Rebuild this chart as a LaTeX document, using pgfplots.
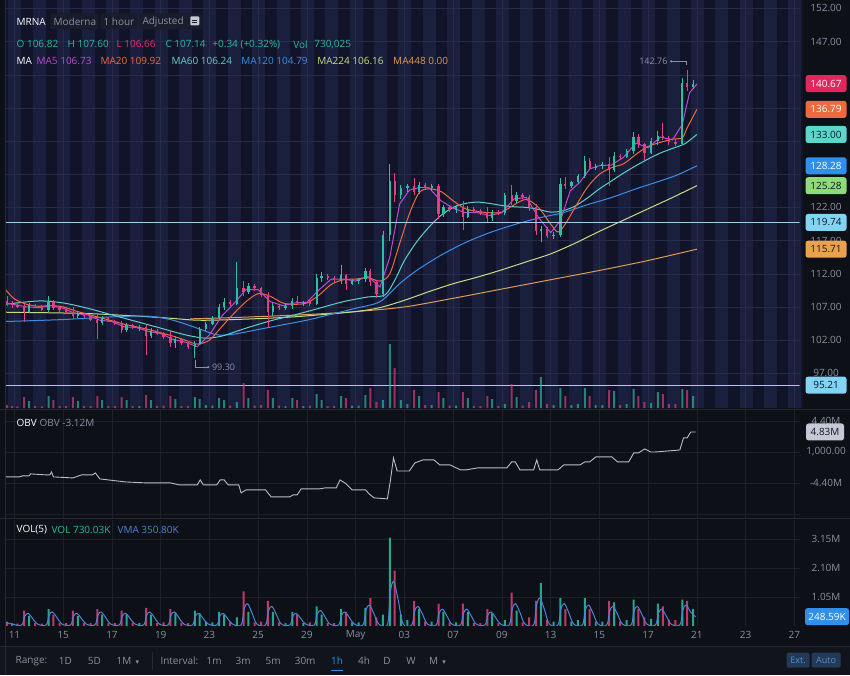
\documentclass[border=0pt]{standalone}
\usepackage{pgfplots}
\pgfplotsset{compat=1.18}
\usepackage{pgfplotstable}
\usepackage{fontspec}
\setmainfont{Open Sans}
\newfontfamily\symfont{DejaVu Sans}

\definecolor{bg}{HTML}{0E1017}
\definecolor{barbg}{HTML}{12141C}
\definecolor{stripeD}{HTML}{111428}
\definecolor{stripeL}{HTML}{1B1F3E}
\definecolor{gridM}{HTML}{272B47}
\definecolor{gridL}{HTML}{1D202C}
\definecolor{sep}{HTML}{252835}
\definecolor{txt}{HTML}{8B90A2}
\definecolor{upc}{HTML}{2BC0A5}
\definecolor{dnc}{HTML}{E2407C}
\definecolor{hdrup}{HTML}{2DB89E}
\definecolor{hdrdn}{HTML}{E0306A}
\definecolor{maFive}{HTML}{BD4BD6}
\definecolor{maTwenty}{HTML}{EE6A3C}
\definecolor{maSixty}{HTML}{5CD0C8}
\definecolor{maOneTwenty}{HTML}{3A8EE6}
\definecolor{maTwoTwentyFour}{HTML}{C2DE84}
\definecolor{maFourFortyEight}{HTML}{DA9C56}
\definecolor{hline}{HTML}{A6CCEB}
\definecolor{obvc}{HTML}{B9BDC9}
\definecolor{vmac}{HTML}{4C82D8}
\definecolor{boxRed}{HTML}{E2265E}
\definecolor{boxOrange}{HTML}{EE6A3C}
\definecolor{boxTeal}{HTML}{5CD6CC}
\definecolor{boxBlue}{HTML}{2F8FEA}
\definecolor{boxGreen}{HTML}{8EDB7A}
\definecolor{boxSky}{HTML}{82D4F5}
\definecolor{boxTan}{HTML}{EAA24E}
\definecolor{boxGrey}{HTML}{C5C9D6}
\definecolor{boxDark}{HTML}{10161E}
\definecolor{btn}{HTML}{233A56}
\definecolor{btntxt}{HTML}{4D8FD6}
\definecolor{chip}{HTML}{191C2A}

% hourly-ish candles: time (trading days from Apr 11), open, high, low, close, volume (M)
\pgfplotstableread{
t o h l c v
-0.30 107.9 108.6 107.2 107.5 0.15
-0.10 107.5 107.9 106.9 107.3 0.10
0.12 107.3 107.6 106.8 107.0 0.08
0.40 107.0 107.4 104.8 106.3 0.55
0.60 106.3 107.6 106.1 107.3 0.35
0.85 107.3 107.5 106.9 107.1 0.10
1.12 107.1 107.3 106.4 106.6 0.08
1.40 106.6 108.6 106.2 107.8 0.60
1.60 107.8 108.0 106.5 106.8 0.40
1.85 106.8 107.0 106.3 106.6 0.10
2.12 106.6 106.9 106.0 106.3 0.10
2.40 106.3 107.0 105.2 105.6 0.55
2.60 105.6 106.4 105.3 106.0 0.35
2.85 106.0 106.1 105.4 105.6 0.10
3.12 105.6 105.8 104.9 105.1 0.10
3.40 105.1 105.9 102.2 104.6 0.60
3.60 104.6 105.6 104.3 105.3 0.40
3.85 105.3 105.5 104.7 104.9 0.10
4.12 104.9 105.1 104.2 104.4 0.10
4.40 104.4 104.9 103.0 103.5 0.55
4.60 103.5 104.6 103.2 104.2 0.40
4.85 104.2 104.4 103.6 103.8 0.10
5.12 103.8 104.2 103.3 103.9 0.10
5.40 103.9 104.3 99.8 102.6 0.65
5.60 102.6 103.8 102.3 103.4 0.40
5.85 103.4 103.6 102.7 102.9 0.10
6.12 102.9 103.2 102.1 102.4 0.12
6.40 102.4 103.4 101.0 101.6 0.60
6.60 101.6 102.4 100.8 102.1 0.45
6.85 102.1 102.3 101.2 101.5 0.10
7.12 101.5 101.8 100.6 100.9 0.10
7.40 100.9 101.8 99.3 101.4 0.55
7.60 101.4 104.0 101.2 103.6 0.45
7.85 103.6 104.8 103.4 104.4 0.15
8.12 104.4 105.6 104.2 105.3 0.12
8.40 105.3 107.5 105.0 107.0 0.50
8.60 107.0 108.4 106.5 107.8 0.40
8.85 107.8 108.1 107.2 107.5 0.12
9.12 107.5 113.8 107.3 109.8 0.30
9.40 109.8 110.9 108.6 109.2 1.25
9.60 109.2 110.6 108.9 110.2 0.50
9.85 110.2 110.5 109.4 109.8 0.12
10.12 109.8 110.0 108.5 108.8 0.15
10.40 108.8 109.2 104.0 106.2 0.90
10.60 106.2 107.6 105.6 107.2 0.50
10.85 107.2 107.5 106.6 106.9 0.12
11.12 106.9 107.4 106.5 107.2 0.10
11.40 107.2 108.3 106.7 107.9 0.50
11.60 107.9 108.6 107.3 107.6 0.40
11.85 107.6 107.9 107.2 107.8 0.10
12.12 107.8 108.2 107.2 107.5 0.12
12.40 107.5 112.0 107.3 111.4 0.70
12.60 111.4 112.2 110.8 111.7 0.40
12.85 111.7 111.9 111.1 111.3 0.10
13.12 111.3 111.6 110.7 111.0 0.10
13.40 111.0 113.3 110.4 111.8 0.60
13.60 111.8 112.0 109.6 110.5 0.50
13.85 110.5 111.2 110.3 110.9 0.12
14.12 110.9 111.4 110.4 111.2 0.12
14.40 111.2 112.9 110.8 112.4 0.65
14.60 112.4 112.7 110.2 110.8 1.00
14.85 110.8 111.0 108.4 108.9 0.30
15.12 108.9 118.5 108.5 117.8 0.40
15.40 117.8 128.6 117.0 126.0 3.20
15.60 126.0 127.2 122.8 123.8 2.00
15.85 123.8 125.4 123.3 124.9 0.40
16.12 124.9 125.5 124.3 125.2 0.20
16.40 125.2 126.4 123.8 124.4 0.90
16.60 124.4 125.8 124.0 125.4 0.60
16.85 125.4 125.7 124.8 125.0 0.15
17.12 125.0 125.6 124.5 125.3 0.15
17.40 125.3 125.5 120.2 121.0 0.80
17.60 121.0 122.4 120.6 122.0 0.50
17.85 122.0 122.3 121.3 121.6 0.12
18.12 121.6 122.3 121.2 122.0 0.12
18.40 122.0 123.0 118.6 120.6 0.80
18.60 120.6 122.2 120.4 121.8 0.50
18.85 121.8 122.0 121.2 121.4 0.10
19.12 121.4 121.8 120.8 121.2 0.10
19.40 121.2 122.0 119.8 120.4 0.60
19.60 120.4 121.6 120.0 121.3 0.45
19.85 121.3 121.6 120.9 121.1 0.10
20.12 121.1 124.2 120.9 123.8 0.20
20.40 123.8 125.4 122.4 122.9 1.20
20.60 122.9 124.3 122.6 123.9 0.55
20.85 123.9 124.2 123.3 123.6 0.12
21.12 123.6 123.8 121.5 122.0 0.30
21.40 122.0 122.5 117.8 118.4 0.90
21.60 118.4 119.2 116.8 118.8 1.55
21.85 118.8 119.0 117.4 117.7 0.20
22.12 117.7 118.3 117.2 117.9 0.15
22.40 117.9 126.4 117.6 125.6 1.00
22.60 125.6 126.6 124.8 125.2 0.60
22.85 125.2 126.0 124.9 125.8 0.15
23.12 125.8 127.0 125.5 126.8 0.20
23.40 126.8 129.8 126.4 129.0 1.00
23.60 129.0 129.4 127.6 128.0 0.60
23.85 128.0 128.6 127.7 128.3 0.15
24.12 128.3 128.8 127.8 128.5 0.15
24.40 128.5 129.6 125.2 127.6 0.90
24.60 127.6 130.3 127.3 129.8 0.85
24.85 129.8 130.1 129.3 129.6 0.15
25.12 129.6 130.8 129.4 130.5 0.20
25.40 130.5 133.4 130.1 132.6 0.95
25.60 132.6 133.0 131.0 131.5 0.60
25.85 131.5 131.7 129.2 130.2 0.30
26.12 130.2 132.4 130.0 132.0 0.25
26.40 132.0 133.5 131.4 132.8 0.80
26.60 132.8 134.8 132.2 132.4 0.70
26.85 132.4 132.7 131.4 131.8 0.20
27.12 131.8 132.3 131.2 131.6 0.20
27.40 131.6 141.5 131.4 140.8 0.95
27.60 140.8 142.76 139.6 140.2 0.90
27.85 140.2 141.2 139.9 140.67 0.60
}\candles

\tikzset{
  pbox/.style={rounded corners=2.5pt, minimum width=41pt, minimum height=17pt, inner sep=0pt},
  lbl/.style={anchor=west, inner sep=0pt},
}
\pgfplotsset{
  candle/.style n args={2}{draw=none, mark=none, forget plot,
    error bars/.cd, y dir=minus, y explicit, error mark=none,
    error bar style={draw=#1, line width=#2}, /pgfplots/.cd},
  isup/.style={restrict expr to domain={\thisrow{c}-\thisrow{o}}{0:100}},
  isdown/.style={restrict expr to domain={\thisrow{c}-\thisrow{o}}{-100:-0.001}},
}

\begin{document}
\begin{tikzpicture}[x=1pt,y=1pt,font=\fontsize{10}{12}\selectfont]
\fill[bg] (0,0) rectangle (850,675);
\fill[barbg] (0,0) rectangle (850,28);

% extended-hours stripes behind the price panel
\fill[stripeD] (5,267) rectangle (803,675);
\begin{scope}
\clip (5,267) rectangle (803,675);
\foreach \k in {-1,...,33} \fill[stripeL] ({14+24.4*\k-6},267) rectangle ({14+24.4*\k+7},675);
\end{scope}

% ---------------- price panel ----------------
\begin{axis}[
  at={(5pt,267pt)}, anchor=south west, scale only axis,
  width=795pt, height=408pt,
  xmin=-0.369, xmax=32.213, ymin=91.76, ymax=153.2,
  axis line style={draw=none}, major tick length=0pt,
  xtick={0,2,...,32}, xticklabels={},
  ytick={97,102,...,152},
  yticklabels={97.00,102.00,107.00,112.00,117.00,122.00,,,,,147.00,152.00},
  ytick pos=right, yticklabel pos=right,
  yticklabel style={text=txt, anchor=center, xshift=26.5pt},
  grid=major, major grid style={gridM, line width=0.5pt},
]
% moving averages
\addplot[maFourFortyEight, line width=1pt, smooth] coordinates {
(7.2,105.2)(9,105.4)(11.7,105.8)(14,106.3)(16,107.0)(18,108.3)(20,109.7)(22,111.1)(24,112.5)(26,114.0)(28,115.71)};
\addplot[maTwoTwentyFour, line width=1pt, smooth] coordinates {
(-0.37,106.2)(3,106.0)(6,105.4)(7.5,105.0)(9,105.1)(11,105.4)(12.5,105.8)(14,106.3)(15,106.9)(16,108.0)(17,109.3)(18,110.5)(19,111.5)(20,112.6)(21,113.8)(22,115.0)(23,116.6)(24,118.4)(25,120.1)(26,121.8)(27,123.5)(28,125.28)};
\addplot[maOneTwenty, line width=1pt, smooth] coordinates {
(-0.37,104.8)(2,105.1)(4,105.5)(5.5,105.6)(6.5,105.0)(7.5,103.8)(8.3,102.8)(9,102.9)(10,103.6)(11,104.3)(12,105.0)(13,105.9)(14,106.8)(15,107.8)(15.8,110.5)(16.5,112.5)(17.5,114.8)(18.5,116.7)(19.5,118.2)(20.5,119.4)(21.5,120.4)(22.5,121.2)(23.5,122.4)(24.5,123.5)(25.5,124.8)(26.5,126.0)(27.2,126.9)(28,128.28)};
\addplot[maSixty, line width=1pt, smooth] coordinates {
(-0.37,107.4)(1,107.9)(2,107.6)(3,106.8)(4,105.8)(5,104.8)(6,103.8)(7,102.8)(7.8,102.3)(8.5,102.6)(9.5,103.8)(10.5,104.9)(11.5,105.8)(12.5,106.8)(13.5,107.8)(14.5,108.5)(15.2,108.8)(15.6,111.0)(16,114.0)(16.5,116.8)(17,119.0)(17.5,120.8)(18,122.0)(18.5,122.6)(19,122.8)(19.5,122.6)(20,122.3)(20.5,122.1)(21,122.0)(21.5,121.7)(22,121.3)(22.5,121.5)(23,122.2)(23.5,123.4)(24,124.8)(24.5,126.0)(25,127.2)(25.5,128.3)(26,129.3)(26.5,130.2)(27,130.9)(27.5,131.6)(28,133.0)};
\addplot[maTwenty, line width=1pt, smooth] coordinates {
(-0.37,109.6)(0.0,108.2)(0.5,107.4)(1.0,107.1)(1.5,107.2)(2.0,107.0)(2.5,106.4)(3.0,105.9)(3.5,105.4)(4.0,104.9)(4.5,104.4)(5.0,104.0)(5.5,103.6)(6.0,103.1)(6.5,102.6)(7.0,102.0)(7.5,101.4)(8.0,102.0)(8.5,104.0)(9.0,106.0)(9.5,107.8)(10.0,109.0)(10.5,108.6)(11.0,107.6)(11.5,107.4)(12.0,107.6)(12.5,108.8)(13.0,110.4)(13.5,111.1)(14.0,111.2)(14.5,111.4)(15.0,110.9)(15.4,112.0)(15.8,116.5)(16.2,121.0)(16.6,124.2)(17.0,124.8)(17.5,124.4)(18.0,123.0)(18.5,121.8)(19.0,121.4)(19.5,121.2)(20.0,121.3)(20.5,122.4)(21.0,123.2)(21.5,122.0)(22.0,119.5)(22.3,118.3)(22.6,119.5)(23.0,122.0)(23.5,125.0)(24.0,127.0)(24.5,128.0)(25.0,128.6)(25.5,130.0)(26.0,131.2)(26.5,131.8)(27.0,132.3)(27.4,132.5)(27.6,134.0)(28.0,136.79)};
\addplot[maFive, line width=1pt] coordinates {
(-0.35,107.6)(0.5,107.0)(1.0,106.9)(1.5,107.2)(2.0,106.8)(2.5,106.0)(3.0,105.8)(3.5,105.0)(4.0,104.8)(4.5,104.0)(5.0,103.9)(5.5,103.3)(6.0,103.0)(6.5,102.1)(7.0,101.7)(7.5,101.0)(8.0,102.8)(8.5,105.6)(9.0,107.5)(9.5,109.6)(10.0,109.6)(10.5,107.8)(11.0,107.2)(11.5,107.6)(12.0,107.7)(12.5,109.6)(13.0,111.2)(13.5,111.2)(14.0,110.9)(14.5,111.6)(15.0,110.0)(15.4,114.5)(15.8,122.5)(16.2,124.6)(16.6,125.0)(17.0,125.0)(17.5,123.0)(18.0,121.9)(18.5,121.2)(19.0,121.2)(19.5,120.8)(20.0,121.2)(20.5,123.3)(21.0,123.5)(21.5,120.5)(22.0,118.2)(22.4,120.0)(22.8,124.5)(23.2,125.8)(23.6,127.8)(24.0,128.3)(24.5,128.4)(25.0,129.6)(25.5,131.7)(26.0,131.0)(26.5,132.6)(27.0,132.2)(27.4,134.5)(27.7,139.3)(28.0,140.6)};

% candles: wicks then bodies, split up/down
\addplot[isup, candle={upc}{0.8pt}]
  table[x=t, y=h, y error minus expr=\thisrow{h}-\thisrow{l}] {\candles};
\addplot[isdown, candle={dnc}{0.8pt}]
  table[x=t, y=h, y error minus expr=\thisrow{h}-\thisrow{l}] {\candles};
\addplot[isup, candle={upc}{2.3pt}]
  table[x=t, y=c, y error minus expr=\thisrow{c}-\thisrow{o}] {\candles};
\addplot[isdown, candle={dnc}{2.3pt}]
  table[x=t, y=o, y error minus expr=\thisrow{o}-\thisrow{c}] {\candles};

% reference lines
\addplot[hline, line width=1.2pt] coordinates {(-0.369,119.74) (32.213,119.74)};
\addplot[hline, line width=1.2pt] coordinates {(-0.369,95.21) (32.213,95.21)};

% high / low markers
\draw[txt, line width=0.6pt] (axis cs:27.58,143.4) -- (axis cs:27.58,144.02) -- (axis cs:26.95,144.02);
\fill[txt] (axis cs:26.95,144.02) circle (1.2pt);
\node[text=txt, anchor=east, inner sep=0pt, font=\fontsize{9}{10}\selectfont] at (axis cs:26.8,144.02) {142.76};
\draw[txt, line width=0.6pt] (axis cs:7.40,99.0) -- (axis cs:7.40,97.94) -- (axis cs:7.95,97.94);
\fill[txt] (axis cs:7.95,97.94) circle (1.2pt);
\node[text=txt, anchor=west, inner sep=0pt, font=\fontsize{9}{10}\selectfont] at (axis cs:8.1,97.94) {99.30};

\coordinate (bA) at (axis cs:32.213,140.67);
\coordinate (bB) at (axis cs:32.213,136.79);
\coordinate (bC) at (axis cs:32.213,133.00);
\coordinate (bD) at (axis cs:32.213,128.28);
\coordinate (bE) at (axis cs:32.213,125.28);
\coordinate (bF) at (axis cs:32.213,119.74);
\coordinate (bG) at (axis cs:32.213,115.71);
\coordinate (bH) at (axis cs:32.213,95.21);
\end{axis}

% volume overlay in the price panel
\begin{axis}[
  at={(5pt,267pt)}, anchor=south west, scale only axis,
  width=795pt, height=65pt,
  xmin=-0.369, xmax=32.213, ymin=0, ymax=3.25, hide axis,
]
\addplot[ybar, bar width=2pt, bar shift=0pt, draw=none, fill=upc, fill opacity=0.65, isup]
  table[x=t, y=v] {\candles};
\addplot[ybar, bar width=2pt, bar shift=0pt, draw=none, fill=dnc, fill opacity=0.65, isdown]
  table[x=t, y=v] {\candles};
\end{axis}

% ---------------- OBV panel ----------------
\begin{axis}[
  at={(5pt,157pt)}, anchor=south west, scale only axis,
  width=795pt, height=108pt,
  xmin=-0.369, xmax=32.213, ymin=-9.37, ymax=5.96,
  axis line style={draw=none}, major tick length=0pt,
  xtick={0,2,...,32}, xticklabels={},
  ytick={-8.8,-4.4,0,4.4}, yticklabels={,-4.40M,{1,000.00},4.40M},
  ytick pos=right, yticklabel pos=right,
  yticklabel style={text=txt, anchor=center, xshift=26.5pt},
  grid=major, major grid style={gridL, line width=0.5pt},
]
\addplot[obvc, line width=0.9pt] coordinates {
(-0.37,-3.55)(0.2,-3.55)(0.33,-3.40)(0.6,-3.40)(0.66,-3.12)(1.3,-3.26)(1.45,-3.26)(1.52,-2.84)(1.6,-3.55)(2.4,-3.69)(2.75,-3.26)(3.2,-3.26)(3.32,-2.98)(3.5,-3.83)(4.55,-4.26)(5.41,-4.40)(6.4,-4.40)(6.76,-4.68)(7.5,-4.68)(7.62,-3.97)(7.75,-4.68)(8.3,-4.68)(8.44,-3.97)(8.6,-3.97)(8.77,-4.68)(9.2,-4.68)(9.30,-5.82)(9.5,-5.39)(9.63,-5.39)(10.3,-5.39)(10.53,-6.38)(11.3,-6.38)(11.43,-6.10)(11.6,-6.10)(11.76,-5.25)(12.5,-5.25)(12.75,-5.11)(13.2,-5.11)(13.36,-3.97)(13.6,-4.5)(13.85,-5.39)(14.4,-5.39)(14.55,-5.96)(14.75,-6.52)(15.3,-6.67)(15.41,-4.40)(15.55,-0.85)(15.7,-2.70)(16.2,-2.70)(16.43,-1.56)(16.76,-1.13)(17.21,-1.13)(17.45,-1.84)(17.87,-1.84)(18.3,-2.55)(18.52,-2.55)(19.0,-2.27)(19.43,-2.27)(20.2,-2.27)(20.4,-1.42)(20.55,-1.42)(20.74,-2.55)(21.3,-2.55)(21.43,-1.13)(21.55,-2.55)(22.3,-2.55)(22.54,-1.84)(23.2,-1.84)(23.40,-1.42)(23.6,-1.42)(23.85,-0.71)(24.51,-0.71)(24.75,-1.42)(25.2,-1.42)(25.41,-0.14)(25.6,-0.14)(25.86,0.43)(26.1,0)(26.31,0)(27.30,0.28)(27.45,1.99)(27.6,2.0)(27.75,2.84)(27.95,2.84)};
\coordinate (bOBV) at (axis cs:32.213,2.84);
\end{axis}

% ---------------- VOL panel ----------------
\begin{axis}[
  at={(5pt,49pt)}, anchor=south west, scale only axis,
  width=795pt, height=106pt,
  xmin=-0.369, xmax=32.213, ymin=0, ymax=3.84,
  axis line style={draw=none}, major tick length=0pt,
  xtick={0,2,...,32},
  xticklabels={11,15,17,19,23,25,29,May,03,07,09,13,15,17,21,23,27},
  xticklabel style={text=txt, anchor=center, yshift=-9pt},
  ytick={1.05,2.10,3.15}, yticklabels={1.05M,2.10M,3.15M},
  ytick pos=right, yticklabel pos=right,
  yticklabel style={text=txt, anchor=center, xshift=26.5pt},
  grid=major, major grid style={gridL, line width=0.5pt},
]
\addplot[ybar, bar width=2pt, bar shift=0pt, draw=none, fill=upc, fill opacity=0.85, isup]
  table[x=t, y=v] {\candles};
\addplot[ybar, bar width=2pt, bar shift=0pt, draw=none, fill=dnc, fill opacity=0.85, isdown]
  table[x=t, y=v] {\candles};
\addplot[vmac, line width=1pt, smooth, tension=0.6] coordinates {
(-0.35,0.12)(-0.05,0.05)
(0.3,0.03)(0.42,0.34)(0.56,0.45)(0.74,0.27)(0.95,0.06)
(1.3,0.03)(1.42,0.38)(1.56,0.5)(1.74,0.30)(1.95,0.06)
(2.3,0.03)(2.42,0.34)(2.56,0.45)(2.74,0.27)(2.95,0.06)
(3.3,0.03)(3.42,0.38)(3.56,0.5)(3.74,0.30)(3.95,0.06)
(4.3,0.03)(4.42,0.34)(4.56,0.45)(4.74,0.27)(4.95,0.06)
(5.3,0.03)(5.42,0.38)(5.56,0.5)(5.74,0.30)(5.95,0.06)
(6.3,0.03)(6.42,0.38)(6.56,0.5)(6.74,0.30)(6.95,0.06)
(7.3,0.03)(7.42,0.34)(7.56,0.45)(7.74,0.27)(7.95,0.06)
(8.3,0.03)(8.42,0.34)(8.56,0.45)(8.74,0.27)(8.95,0.06)
(9.3,0.03)(9.42,0.60)(9.56,0.8)(9.74,0.48)(9.95,0.06)
(10.3,0.03)(10.42,0.53)(10.56,0.7)(10.74,0.42)(10.95,0.06)
(11.3,0.03)(11.42,0.34)(11.56,0.45)(11.74,0.27)(11.95,0.06)
(12.3,0.03)(12.42,0.41)(12.56,0.55)(12.74,0.33)(12.95,0.06)
(13.3,0.03)(13.42,0.38)(13.56,0.5)(13.74,0.30)(13.95,0.06)
(14.3,0.03)(14.42,0.56)(14.56,0.75)(14.74,0.45)(14.95,0.06)
(15.3,0.03)(15.42,1.20)(15.56,1.6)(15.74,0.96)(15.95,0.06)
(16.3,0.03)(16.42,0.53)(16.56,0.7)(16.74,0.42)(16.95,0.06)
(17.3,0.03)(17.42,0.45)(17.56,0.6)(17.74,0.36)(17.95,0.06)
(18.3,0.03)(18.42,0.45)(18.56,0.6)(18.74,0.36)(18.95,0.06)
(19.3,0.03)(19.42,0.38)(19.56,0.5)(19.74,0.30)(19.95,0.06)
(20.3,0.03)(20.42,0.60)(20.56,0.8)(20.74,0.48)(20.95,0.06)
(21.3,0.03)(21.42,0.75)(21.56,1.0)(21.74,0.60)(21.95,0.06)
(22.3,0.03)(22.42,0.60)(22.56,0.8)(22.74,0.48)(22.95,0.06)
(23.3,0.03)(23.42,0.56)(23.56,0.75)(23.74,0.45)(23.95,0.06)
(24.3,0.03)(24.42,0.53)(24.56,0.7)(24.74,0.42)(24.95,0.06)
(25.3,0.03)(25.42,0.53)(25.56,0.7)(25.74,0.42)(25.95,0.06)
(26.3,0.03)(26.42,0.45)(26.56,0.6)(26.74,0.36)(26.95,0.06)
(27.3,0.03)(27.42,0.56)(27.56,0.75)(27.74,0.50)(27.95,0.33)};
\coordinate (bVOL) at (axis cs:32.213,0.33);
\end{axis}

% panel separators
\draw[sep, line width=1pt] (0,266) -- (850,266);
\draw[sep, line width=1pt] (0,156) -- (850,156);
\draw[sep, line width=1pt] (0,28) -- (850,28);
\draw[sep, line width=1pt] (5,0) -- (5,675);

% right-hand value boxes
\node[pbox, fill=boxRed, text=white, xshift=26.5pt] at (bA) {140.67};
\node[pbox, fill=boxOrange, text=white, xshift=26.5pt] at (bB) {136.79};
\node[pbox, fill=boxTeal, text=boxDark, xshift=26.5pt] at (bC) {133.00};
\node[pbox, fill=boxBlue, text=white, xshift=26.5pt] at (bD) {128.28};
\node[pbox, fill=boxGreen, text=boxDark, xshift=26.5pt] at (bE) {125.28};
\node[pbox, fill=boxSky, text=boxDark, xshift=26.5pt] at (bF) {119.74};
\node[pbox, fill=boxTan, text=boxDark, xshift=26.5pt] at (bG) {115.71};
\node[pbox, fill=boxSky, text=boxDark, xshift=26.5pt] at (bH) {95.21};
\node[pbox, minimum width=38pt, fill=boxGrey, text=boxDark, xshift=25.5pt] at (bOBV) {4.83M};
\node[pbox, minimum width=44pt, fill=boxBlue, text=white, xshift=27.5pt] at (bVOL) {248.59K};

% header
\fill[chip, rounded corners=2pt] (50,646) rectangle (98,662);
\fill[chip, rounded corners=2pt] (100,646) rectangle (137,662);
\fill[chip, rounded corners=2pt] (139,646) rectangle (186,662);
\fill[chip, rounded corners=2pt] (187,646) rectangle (202,662);
\node[lbl, text=white] at (16,654) {MRNA};
\node[lbl, text=txt] at (53,654) {Moderna};
\node[lbl, text=txt] at (103,654) {1 hour};
\node[lbl, text=txt] at (142,654) {Adjusted};
\fill[boxGrey, rounded corners=1pt] (190,650) rectangle (199,659);
\draw[chip, line width=0.8pt] (192,655.5) -- (197,655.5) (192,653) -- (197,653);

\node[lbl, text=hdrup] at (16,631) {O 106.82};
\node[lbl, text=hdrup] at (67,631) {H 107.60};
\node[lbl, text=hdrdn] at (116,631) {L 106.66};
\node[lbl, text=hdrup] at (165,631) {C 107.14};
\node[lbl, text=hdrup] at (212,631) {+0.34 (+0.32\%)};
\node[lbl, text=hdrup] at (293,631) {Vol};
\node[lbl, text=hdrup] at (314,631) {730,025};

\node[lbl, text=white] at (16,614) {MA};
\node[lbl, text=maFive] at (36,614) {MA5 106.73};
\node[lbl, text=maTwenty] at (100,614) {MA20 109.92};
\node[lbl, text=maSixty] at (171,614) {MA60 106.24};
\node[lbl, text=maOneTwenty] at (241,614) {MA120 104.79};
\node[lbl, text=maTwoTwentyFour] at (317,614) {MA224 106.16};
\node[lbl, text=maFourFortyEight] at (393,614) {MA448 0.00};

% panel titles
\node[lbl, text=white] at (16,252) {OBV};
\node[lbl, text=txt] at (39,252) {OBV -3.12M};
\node[lbl, text=white] at (16,145) {VOL(5)};
\node[lbl, text=hdrup] at (51,145) {VOL 730.03K};
\node[lbl, text=vmac] at (117,145) {VMA 350.80K};

% toolbar
\node[lbl, text=txt] at (15,14) {Range:};
\node[text=txt, inner sep=0pt] at (65,14) {1D};
\node[text=txt, inner sep=0pt] at (94,14) {5D};
\node[lbl, text=txt] at (116,14) {1M \,{\symfont\fontsize{7}{8}\selectfont ▾}};
\draw[sep, line width=1pt] (152,5) -- (152,23);
\node[lbl, text=txt] at (160,14) {Interval:};
\node[text=txt, inner sep=0pt] at (214,14) {1m};
\node[text=txt, inner sep=0pt] at (243,14) {3m};
\node[text=txt, inner sep=0pt] at (273,14) {5m};
\node[text=txt, inner sep=0pt] at (305,14) {30m};
\node[text=boxBlue, inner sep=0pt] at (337,14) {1h};
\draw[boxBlue, line width=1.5pt] (331,4) -- (343,4);
\node[text=txt, inner sep=0pt] at (364,14) {4h};
\node[text=txt, inner sep=0pt] at (387,14) {D};
\node[text=txt, inner sep=0pt] at (411,14) {W};
\node[lbl, text=txt] at (429,14) {M \,{\symfont\fontsize{7}{8}\selectfont ▾}};
\fill[btn, rounded corners=1.5pt] (787,7) rectangle (810,22);
\fill[btn, rounded corners=1.5pt] (812,7) rectangle (841,22);
\node[text=btntxt, inner sep=0pt, font=\fontsize{9}{10}\selectfont] at (798.5,14.5) {Ext.};
\node[text=btntxt, inner sep=0pt, font=\fontsize{9}{10}\selectfont] at (826.5,14.5) {Auto};
\end{tikzpicture}
\end{document}
